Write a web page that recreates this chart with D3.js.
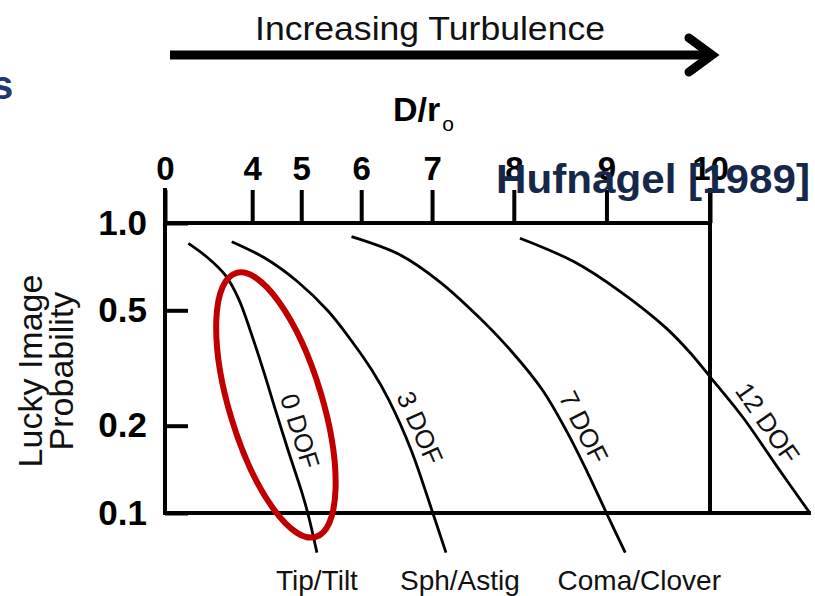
<!DOCTYPE html>
<html>
<head>
<meta charset="utf-8">
<script src="https://cdn.jsdelivr.net/npm/d3@7"></script>
<style>
  html, body { margin: 0; padding: 0; background: #ffffff; }
  svg { display: block; }
  text { font-family: "Liberation Sans", Arial, sans-serif; }
</style>
</head>
<body>
<svg id="chart" width="815" height="596"></svg>
<script>
// ---------------- data ----------------
const topTickValues = [0, 4, 5, 6, 7, 8, 9, 10];
const yTickValues = [0.1, 0.2, 0.5, 1.0];
const seriesNames = ["0 DOF", "3 DOF", "7 DOF", "12 DOF"];
const categoryNames = ["Tip/Tilt", "Sph/Astig", "Coma/Clover"];

// each curve: D/r0 values and lucky-image probability values
const dof0_D = [2.07, 2.82, 3.32, 3.67, 3.99, 4.28, 4.49, 4.76, 5.01, 5.13, 5.28];
const dof0_P = [0.85, 0.756, 0.662, 0.55, 0.411, 0.299, 0.23, 0.163, 0.118, 0.098, 0.073];
const dof3_D = [3.50, 4.28, 4.94, 5.47, 5.84, 6.16, 6.41, 6.72, 7.01, 7.18];
const dof3_P = [0.862, 0.757, 0.626, 0.497, 0.395, 0.311, 0.245, 0.165, 0.100, 0.073];
const dof7_D = [5.85, 6.57, 7.10, 7.60, 7.98, 8.32, 8.59, 8.80, 9.00, 9.19];
const dof7_P = [0.897, 0.776, 0.627, 0.470, 0.359, 0.266, 0.190, 0.139, 0.100, 0.073];
const dof12_D = [8.07, 8.66, 9.14, 9.59, 9.81, 10.01, 10.30, 10.59, 10.87];
const dof12_P = [0.886, 0.736, 0.580, 0.434, 0.359, 0.292, 0.213, 0.146, 0.101];

// probability at which each DOF label sits along its curve
const labelP = [0.184, 0.186, 0.186, 0.189];

// highlight ellipse: end points of its long axis (D/r0, P) and width ratio
const ellipseTop = [3.61, 0.672];
const ellipseBottom = [5.26, 0.0827];
const ellipseRatio = 0.337;

// ---------------- layout ----------------
const svg = d3.select("#chart");
const X0 = 165, X1 = 710, Y0 = 513, Y1 = 223;

const x = d3.scalePow().exponent(2).domain([0, 10]).range([X0, X1]);
const y = d3.scaleLog().domain([0.1, 1]).range([Y0, Y1]);

const curves = [
  d3.zip(dof0_D, dof0_P),
  d3.zip(dof3_D, dof3_P),
  d3.zip(dof7_D, dof7_P),
  d3.zip(dof12_D, dof12_P)
];

// ---------------- header ----------------
svg.append("text")
  .attr("x", -9).attr("y", 99)
  .attr("font-size", 40).attr("font-weight", "bold")
  .attr("fill", "#1f3a6e")
  .text("s");

svg.append("text")
  .attr("x", 430).attr("y", 40)
  .attr("text-anchor", "middle")
  .attr("font-size", 33)
  .attr("textLength", 350).attr("lengthAdjust", "spacingAndGlyphs")
  .attr("fill", "#111")
  .text("Increasing Turbulence");

// arrow
svg.append("line")
  .attr("x1", 170).attr("y1", 55).attr("x2", 708).attr("y2", 55)
  .attr("stroke", "#000").attr("stroke-width", 9);
svg.append("path")
  .attr("d", d3.line()([[689, 38], [712, 55], [689, 72]]))
  .attr("fill", "none").attr("stroke", "#000").attr("stroke-width", 9)
  .attr("stroke-linecap", "round").attr("stroke-linejoin", "miter");

// D/r0 axis title
const dt = svg.append("text")
  .attr("x", 393).attr("y", 121)
  .attr("font-size", 34).attr("font-weight", "bold").attr("fill", "#000");
dt.append("tspan").text("D/r");
dt.append("tspan").attr("font-size", 21).attr("font-weight", "normal")
  .attr("dx", 2).attr("dy", 10).text("o");

// ---------------- axes ----------------
const topAxis = d3.axisTop(x).tickValues(topTickValues).tickSize(33).tickPadding(10)
  .tickFormat(d3.format("d"));
const gTop = svg.append("g").attr("transform", `translate(0,${Y1})`).call(topAxis);
gTop.select(".domain").remove();
gTop.selectAll(".tick line").attr("stroke", "#000").attr("stroke-width", 4);
gTop.selectAll(".tick text")
  .attr("font-family", "'Liberation Sans', Arial, sans-serif")
  .attr("font-size", 33).attr("font-weight", "bold").attr("fill", "#000");

const leftAxis = d3.axisLeft(y).tickValues(yTickValues).tickSize(-23).tickPadding(18)
  .tickFormat(d3.format(".1f"));
const gLeft = svg.append("g").attr("transform", `translate(${X0},0)`).call(leftAxis);
gLeft.select(".domain").remove();
gLeft.selectAll(".tick line").attr("stroke", "#000").attr("stroke-width", 4);
gLeft.selectAll(".tick text")
  .attr("font-family", "'Liberation Sans', Arial, sans-serif")
  .attr("font-size", 35).attr("font-weight", "bold").attr("fill", "#000");

// frame
const lastPt = curves[3][curves[3].length - 1];
const frame = svg.append("g").attr("stroke", "#000").attr("stroke-width", 4).attr("stroke-linecap", "square");
frame.append("line").attr("x1", x(0)).attr("x2", x(10)).attr("y1", y(1)).attr("y2", y(1));
frame.append("line").attr("x1", x(0)).attr("x2", x(0)).attr("y1", y(1) - 33).attr("y2", y(0.1));
frame.append("line").attr("x1", x(10)).attr("x2", x(10)).attr("y1", y(1) - 33).attr("y2", y(0.1));
frame.append("line").attr("x1", x(0)).attr("x2", x(lastPt[0])).attr("y1", y(0.1)).attr("y2", y(0.1));

// y axis title
const yt = svg.append("text")
  .attr("transform", `translate(0,371) rotate(-90)`)
  .attr("text-anchor", "middle").attr("font-size", 34).attr("fill", "#111");
yt.append("tspan").attr("x", 0).attr("y", 42).text("Lucky Image");
yt.append("tspan").attr("x", 0).attr("y", 73).text("Probability");

// ---------------- curves ----------------
const line = d3.line()
  .x(d => x(d[0])).y(d => y(d[1]))
  .curve(d3.curveCatmullRom.alpha(0.5));

svg.append("g").selectAll("path")
  .data(curves).join("path")
  .attr("d", line)
  .attr("fill", "none").attr("stroke", "#000").attr("stroke-width", 2.8);

// labels along curves
function anchorOn(curve, p) {
  const py = y(p);
  const pts = curve.map(d => [x(d[0]), y(d[1])]);
  for (let i = 0; i < pts.length - 1; i++) {
    const a = pts[i], b = pts[i + 1];
    if (py >= a[1] && py <= b[1]) {
      const t = (py - a[1]) / (b[1] - a[1]);
      const ang = Math.atan2(b[1] - a[1], b[0] - a[0]) * 180 / Math.PI;
      return [a[0] + t * (b[0] - a[0]), py, ang];
    }
  }
  return [pts[0][0], pts[0][1], 60];
}
curves.forEach((c, i) => {
  const [ax, ay, ang] = anchorOn(c, labelP[i]);
  svg.append("text")
    .attr("transform", `translate(${ax},${ay}) rotate(${ang})`)
    .attr("y", -8)
    .attr("text-anchor", "middle")
    .attr("font-size", 26).attr("fill", "#111")
    .text(seriesNames[i]);
});

// category labels below curve ends
const categoryDx = [0, 14, 14];
categoryNames.forEach((name, i) => {
  const end = curves[i][curves[i].length - 1];
  svg.append("text")
    .attr("x", x(end[0]) + categoryDx[i]).attr("y", 590)
    .attr("text-anchor", "middle").attr("font-size", 28).attr("fill", "#111")
    .text(name);
});

// highlight ellipse
{
  const ax = x(ellipseTop[0]), ay = y(ellipseTop[1]);
  const bx = x(ellipseBottom[0]), by = y(ellipseBottom[1]);
  const cx = (ax + bx) / 2, cy = (ay + by) / 2;
  const rx = Math.hypot(bx - ax, by - ay) / 2;
  const ang = Math.atan2(by - ay, bx - ax) * 180 / Math.PI;
  svg.append("ellipse")
    .attr("cx", cx).attr("cy", cy).attr("rx", rx).attr("ry", rx * ellipseRatio)
    .attr("transform", `rotate(${ang},${cx},${cy})`)
    .attr("fill", "none").attr("stroke", "#c00000").attr("stroke-width", 6);
}

// citation
svg.append("text")
  .attr("x", 496).attr("y", 193)
  .attr("font-size", 40).attr("font-weight", "bold")
  .attr("textLength", 314).attr("lengthAdjust", "spacingAndGlyphs")
  .attr("fill", "#16284a")
  .text("Hufnagel [1989]");
</script>
</body>
</html>
